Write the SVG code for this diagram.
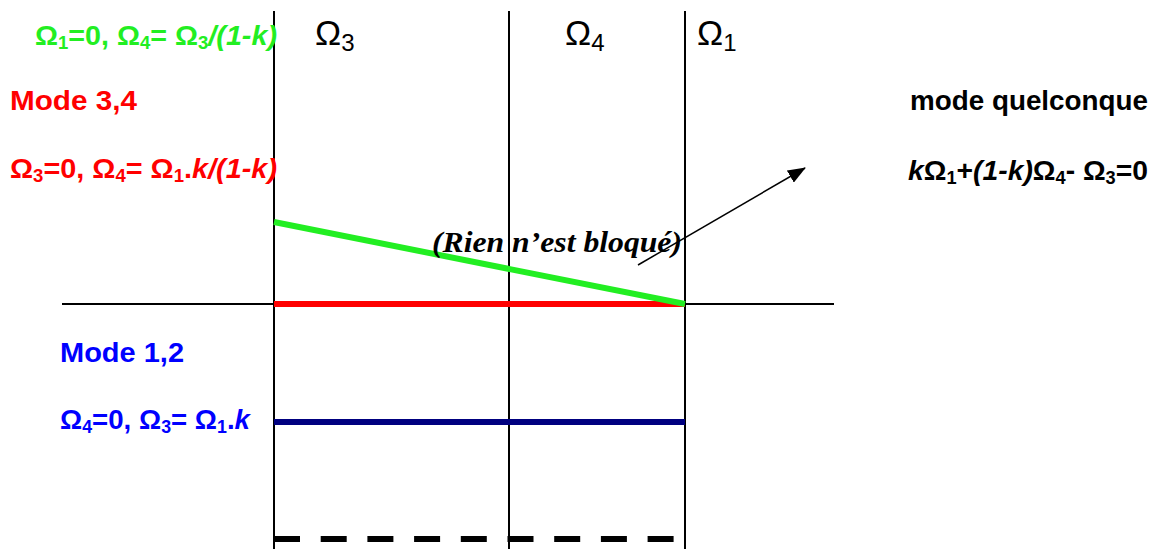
<svg xmlns="http://www.w3.org/2000/svg" width="1159" height="549" viewBox="0 0 1159 549">
<style>
.b{font-family:"Liberation Sans",Arial,sans-serif;font-weight:bold;font-size:28px}
.om{font-family:"Liberation Sans",Arial,sans-serif;font-size:35px;fill:#000}
.it{font-style:italic}
.ax{stroke:#000;stroke-width:2;fill:none}
</style>
<defs>
<marker id="ah2" markerWidth="18" markerHeight="14" refX="17" refY="7" orient="auto" markerUnits="userSpaceOnUse" viewBox="0 0 18 14"><path d="M0,0 L18,7 L0,14 z" fill="#000"/></marker>
</defs>
<g id="connectors">
<line class="ax" x1="274" y1="11" x2="274" y2="549"/>
<line class="ax" x1="509" y1="11" x2="509" y2="549" stroke-width="1.5"/>
<line class="ax" x1="685" y1="11" x2="685" y2="549"/>
<line class="ax" x1="62" y1="304" x2="834" y2="304" stroke-width="1.5"/>
<line x1="274" y1="304" x2="685" y2="304" stroke="#ff0000" stroke-width="6"/>
<line x1="274" y1="222" x2="685" y2="304" stroke="#22ee22" stroke-width="6"/>
<line x1="274" y1="422" x2="685" y2="422" stroke="#000080" stroke-width="6"/>
<line x1="274" y1="539" x2="685" y2="539" stroke="#000" stroke-width="6" stroke-dasharray="26 20.7"/>
<line x1="638" y1="265" x2="805" y2="168" stroke="#000" stroke-width="1.5" marker-end="url(#ah2)"/>
</g>
<g id="omega-labels">
<text class="om" x="315" y="45">Ω<tspan font-size="24" dy="6">3</tspan></text>
<text class="om" x="565" y="45">Ω<tspan font-size="24" dy="6">4</tspan></text>
<text class="om" x="697" y="45">Ω<tspan font-size="24" dy="6">1</tspan></text>
</g>
<g id="mode34" fill="#ff0000">
<text class="b" x="10" y="110" textLength="127" lengthAdjust="spacingAndGlyphs">Mode 3,4</text>
<text class="b" x="10" y="178" textLength="267" lengthAdjust="spacingAndGlyphs">Ω<tspan font-size="18" dy="4">3</tspan><tspan dy="-4">=0, Ω</tspan><tspan font-size="18" dy="4">4</tspan><tspan dy="-4">= Ω</tspan><tspan font-size="18" dy="4">1</tspan><tspan dy="-4">.</tspan><tspan class="it">k/(1-k)</tspan></text>
</g>
<g id="green-mode" fill="#22ee22">
<text class="b" x="35" y="45" textLength="242" lengthAdjust="spacingAndGlyphs">Ω<tspan font-size="18" dy="4">1</tspan><tspan dy="-4">=0, Ω</tspan><tspan font-size="18" dy="4">4</tspan><tspan dy="-4">= Ω</tspan><tspan font-size="18" dy="4">3</tspan><tspan dy="-4" class="it">/(1-k)</tspan></text>
</g>
<g id="mode12" fill="#0000ff">
<text class="b" x="60" y="362" textLength="124" lengthAdjust="spacingAndGlyphs">Mode 1,2</text>
<text class="b" x="60" y="429" textLength="190" lengthAdjust="spacingAndGlyphs">Ω<tspan font-size="18" dy="4">4</tspan><tspan dy="-4">=0, Ω</tspan><tspan font-size="18" dy="4">3</tspan><tspan dy="-4">= Ω</tspan><tspan font-size="18" dy="4">1</tspan><tspan dy="-4">.</tspan><tspan class="it">k</tspan></text>
</g>
<g id="mode-quelconque" fill="#000">
<text class="b" x="910" y="110" textLength="238" lengthAdjust="spacingAndGlyphs">mode quelconque</text>
<text class="b" x="908" y="180" textLength="240" lengthAdjust="spacingAndGlyphs"><tspan class="it">k</tspan>Ω<tspan font-size="18" dy="4">1</tspan><tspan dy="-4">+</tspan><tspan class="it">(1-k)</tspan>Ω<tspan font-size="18" dy="4">4</tspan><tspan dy="-4">- Ω</tspan><tspan font-size="18" dy="4">3</tspan><tspan dy="-4">=0</tspan></text>
</g>
<g id="rien">
<text x="432" y="252" font-family="'Liberation Serif','Times New Roman',serif" font-weight="bold" font-style="italic" font-size="29" textLength="250" lengthAdjust="spacingAndGlyphs">(Rien n’est bloqué)</text>
</g>
</svg>
